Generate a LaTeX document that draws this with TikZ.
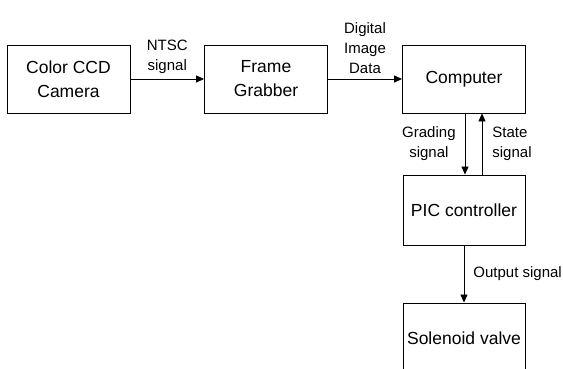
\documentclass[tikz,border=0pt]{standalone}
\usepackage{fontspec}
\setmainfont{Liberation Sans}
\usetikzlibrary{arrows.meta}

\begin{document}
\begin{tikzpicture}[
  x=1pt, y=-1pt,
  every node/.style={inner sep=1pt},
  block/.style={draw, line width=0.9pt, minimum width=123pt, minimum height=68pt,
    align=center, font=\fontsize{17.5}{24}\selectfont},
  lbl/.style={align=center, font=\fontsize{15}{20}\selectfont},
  arrow/.style={draw, line width=0.8pt, -{Triangle[length=8pt, width=7pt]}}]

  \clip (0,0) rectangle (563,369);

  \node[block] (cam)   at (68.5, 79) {Color CCD\\Camera};
  \node[block] (frame) at (266, 79)  {Frame\\Grabber};
  \node[block] (comp)  at (464, 79)  {Computer};
  \node[block, minimum width=122pt, minimum height=70pt] (pic)   at (464, 210) {PIC controller};
  \node[block, minimum width=122pt, minimum height=70pt] (valve) at (464, 338) {Solenoid valve};

  \draw[arrow] (cam)   -- node[lbl, above=4pt] (ntsc) {NTSC\\signal} (frame);
  \draw[arrow] (frame) -- node[lbl, above=4pt] (data) {Digital\\Image\\Data} (comp);
  \draw[arrow] ([xshift=1pt]comp.south) -- node[lbl, left=8pt] (grade) {Grading\\signal} ([xshift=1pt]pic.north);
  \draw[arrow] ([xshift=18pt]pic.north) -- node[lbl, right=9pt, align=left] (state) {State\\signal} ([xshift=18pt]comp.south);
  \draw[arrow] (pic) -- node[lbl, right=8pt] (out) {Output signal} (valve);

\end{tikzpicture}
\end{document}
